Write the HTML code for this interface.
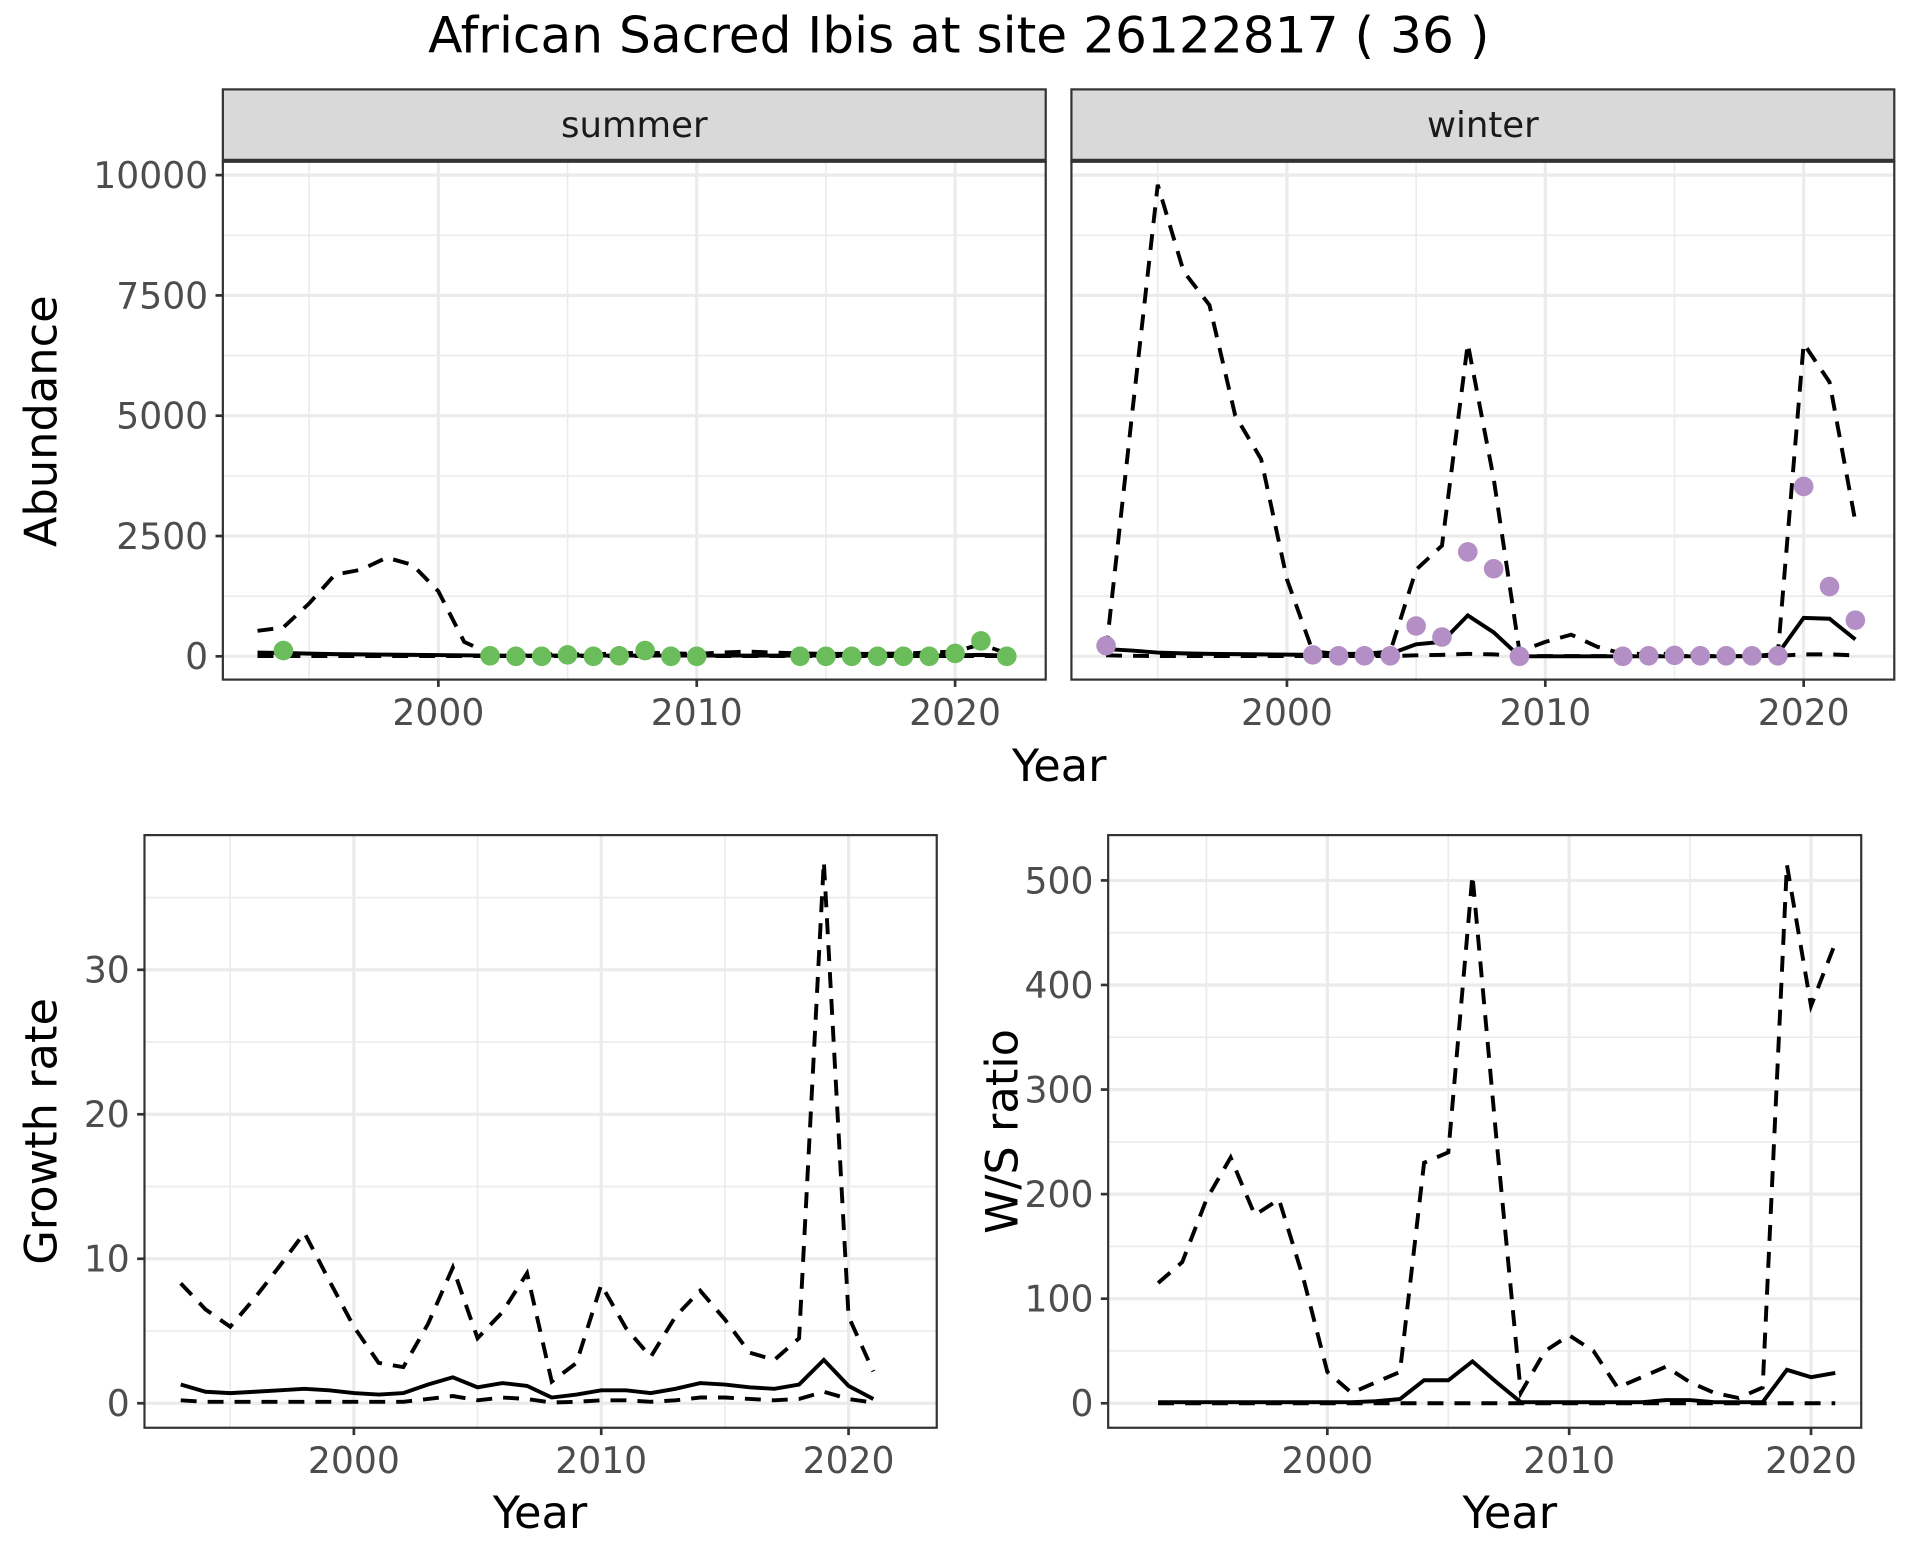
<!DOCTYPE html>
<html><head><meta charset="utf-8"><style>
html,body{margin:0;padding:0;background:#fff}
svg{display:block}
text{font-family:"DejaVu Sans","Liberation Sans",sans-serif}
</style></head><body>
<svg id="c" width="1920" height="1560" viewBox="0 0 1568 1274" xmlns="http://www.w3.org/2000/svg">
<rect width="1568" height="1274" fill="#fff"/>
<text x="783" y="43" text-anchor="middle" font-size="41" fill="#000">African Sacred Ibis at site 26122817 ( 36 )</text>
</svg>
<script>
// ---- data ----
const absYears = [1993,1994,1995,1996,1997,1998,1999,2000,2001,2002,2003,2004,2005,2006,2007,2008,2009,2010,2011,2012,2013,2014,2015,2016,2017,2018,2019,2020,2021,2022];
const sumUpper = [530,600,1100,1700,1800,2050,1900,1350,300,50,40,40,40,40,60,80,60,50,80,100,80,60,50,50,50,60,80,100,250,60];
const sumMean  = [80,70,55,45,40,35,30,25,20,15,15,15,15,15,15,15,15,15,15,15,15,15,15,15,15,15,15,20,30,15];
const sumLower = [5,5,5,5,5,5,5,5,5,5,5,5,5,5,5,5,5,5,5,5,5,5,5,5,5,5,5,5,5,5];
const sumPtYears = [1994,2002,2003,2004,2005,2006,2007,2008,2009,2010,2014,2015,2016,2017,2018,2019,2020,2021,2022];
const sumPtVals  = [120,10,0,0,30,0,10,120,0,0,0,0,0,0,0,0,60,320,0];
const winUpper = [100,5000,9800,8000,7300,5000,4100,1600,100,50,50,100,1800,2300,6500,3700,100,300,450,200,50,50,50,50,50,50,50,6500,5700,2800];
const winMean  = [150,120,80,60,50,45,40,35,30,30,30,50,250,300,850,500,0,0,0,0,0,0,0,0,0,0,50,800,780,350];
const winLower = [20,10,5,5,5,5,5,5,5,5,5,5,20,30,50,40,5,5,5,5,5,5,5,5,5,5,10,40,40,20];
const winPtYears = [1993,2001,2002,2003,2004,2005,2006,2007,2008,2009,2013,2014,2015,2016,2017,2018,2019,2020,2021,2022];
const winPtVals  = [220,30,10,10,10,630,400,2170,1820,0,0,10,20,10,10,10,10,3530,1450,750];
const rateYears = [1993,1994,1995,1996,1997,1998,1999,2000,2001,2002,2003,2004,2005,2006,2007,2008,2009,2010,2011,2012,2013,2014,2015,2016,2017,2018,2019,2020,2021];
const grUpper = [8.3,6.5,5.3,7.3,9.5,11.8,8.5,5.3,2.8,2.5,5.5,9.4,4.5,6.3,9.0,1.5,2.8,8.2,5.2,3.2,6.0,7.8,5.8,3.5,3.0,4.5,37.5,6.0,2.2];
const grMean  = [1.3,0.8,0.7,0.8,0.9,1.0,0.9,0.7,0.6,0.7,1.3,1.8,1.1,1.4,1.2,0.4,0.6,0.9,0.9,0.7,1.0,1.4,1.3,1.1,1.0,1.3,3.0,1.2,0.3];
const grLower = [0.2,0.1,0.1,0.1,0.1,0.1,0.1,0.1,0.1,0.1,0.3,0.5,0.2,0.4,0.3,0.05,0.1,0.2,0.2,0.1,0.2,0.4,0.4,0.3,0.2,0.3,0.8,0.3,0.05];
const wsUpper = [115,135,195,235,180,195,120,30,10,20,30,230,240,505,250,10,50,65,50,15,25,35,20,10,5,15,515,380,440];
const wsMean  = [1,1,1,1,1,1,1,1,1,2,4,22,22,40,20,1,1,1,1,1,1,3,3,1,1,1,32,25,29];
const wsLower = [0,0,0,0,0,0,0,0,0,0,0,0,0,0,0,0,0,0,0,0,0,0,0,0,0,0,0,0,0];
const absTicks = [0,2500,5000,7500,10000];
const absTickLabels = ["0","2500","5000","7500","10000"];
const grTicks = [0,10,20,30];
const wsTicks = [0,100,200,300,400,500];
const yearTicks = [2000,2010,2020];

const svg = document.getElementById('c');
const NS = 'http://www.w3.org/2000/svg';
function mk(tag, attrs, parent){const e=document.createElementNS(NS,tag);for(const k in attrs)e.setAttribute(k,attrs[k]);(parent||svg).appendChild(e);return e;}
function lin(d0,d1,r0,r1){return v=>r0+(v-d0)*(r1-r0)/(d1-d0);}
const TICK_FS=29.5;

function panel(name,x0,x1,y0,y1,xs,ys,yT,yLbls,xMinor,yMinor,showY){
  const g=mk('g',{});
  
  
  mk('rect',{x:x0,y:y0,width:x1-x0,height:y1-y0,fill:'#fff'},g);
  yMinor.forEach(v=>{const l=mk('line',{x1:x0,x2:x1,y1:ys(v),y2:ys(v),stroke:'#ebebeb','stroke-width':1.3},g);});
  xMinor.forEach(v=>{const l=mk('line',{y1:y0,y2:y1,x1:xs(v),x2:xs(v),stroke:'#ebebeb','stroke-width':1.3},g);});
  yT.forEach((v,i)=>{
    const l=mk('line',{x1:x0,x2:x1,y1:ys(v),y2:ys(v),stroke:'#ebebeb','stroke-width':2.6},g);
    
    if(showY){
      mk('line',{x1:x0-6,x2:x0,y1:ys(v),y2:ys(v),stroke:'#333','stroke-width':2.2},svg);
      const t=mk('text',{x:x0-12,y:ys(v)+10.5,'text-anchor':'end','font-size':TICK_FS,fill:'#4d4d4d'});
      t.textContent=yLbls[i];
      
    }
  });
  yearTicks.forEach(v=>{
    const l=mk('line',{y1:y0,y2:y1,x1:xs(v),x2:xs(v),stroke:'#ebebeb','stroke-width':2.6},g);
    
    mk('line',{y1:y1,y2:y1+6,x1:xs(v),x2:xs(v),stroke:'#333','stroke-width':2.2},svg);
    const t=mk('text',{x:xs(v),y:y1+37,'text-anchor':'middle','font-size':TICK_FS,fill:'#4d4d4d'});
    t.textContent=v;
    
  });
  return g;
}
function line(g,xs,ys,years,vals,dash,name){
  const p=mk('path',{d:years.map((y,i)=>(i?'L':'M')+xs(y).toFixed(1)+','+ys(vals[i]).toFixed(1)).join(''),fill:'none',stroke:'#000','stroke-width':3.2,'stroke-dasharray':dash?'13,9':'none'},g);
  
  
}
function pts(g,xs,ys,years,vals,col,name){
  years.forEach((y,i)=>{
    const c=mk('circle',{cx:xs(y),cy:ys(vals[i]),r:8,fill:col},g);
    
    
  });
}
function border(x0,x1,y0,y1,name){const r=mk('rect',{x:x0,y:y0,width:x1-x0,height:y1-y0,fill:'none',stroke:'#333','stroke-width':1.8});}
function strip(x0,x1,label){
  const r=mk('rect',{x:x0,y:73,width:x1-x0,height:59,fill:'#d9d9d9',stroke:'#333','stroke-width':1.8});
  
  mk('line',{x1:x0,x2:x1,y1:131,y2:131,stroke:'#333','stroke-width':2.8});
  const t=mk('text',{x:(x0+x1)/2,y:112,'text-anchor':'middle','font-size':29,fill:'#1a1a1a'});
  t.textContent=label;
}
function title(x,y,txt,rot,name){
  const t=mk('text',{x:x,y:y,'text-anchor':'middle','font-size':36.5,fill:'#000',transform:rot?`rotate(-90 ${x} ${y})`:''});
  t.textContent=txt;
}
const minorYears=[1995,2005,2015];

// Abundance panels
const aYs=lin(0,10000,536,143);
const absMinor=[1250,3750,6250,8750];
{
  const xs=lin(2000,2020,358,780);
  const g=panel('summer-panel',182,854,132,555,xs,aYs,absTicks,absTickLabels,minorYears,absMinor,true);
  line(g,xs,aYs,absYears,sumUpper,true,'summer-upper-line');
  line(g,xs,aYs,absYears,sumLower,true,'summer-lower-line');
  line(g,xs,aYs,absYears,sumMean,false,'summer-mean-line');
  pts(g,xs,aYs,sumPtYears,sumPtVals,'#6abd5a','summer-count-point');
  border(182,854,132,555,'summer-panel-border');
  strip(182,854,'summer');
}
{
  const xs=lin(2000,2020,1051,1473);
  const g=panel('winter-panel',875,1547,132,555,xs,aYs,absTicks,absTickLabels,minorYears,absMinor,false);
  line(g,xs,aYs,absYears,winUpper,true,'winter-upper-line');
  line(g,xs,aYs,absYears,winLower,true,'winter-lower-line');
  line(g,xs,aYs,absYears,winMean,false,'winter-mean-line');
  pts(g,xs,aYs,winPtYears,winPtVals,'#b48fc6','winter-count-point');
  border(875,1547,132,555,'winter-panel-border');
  strip(875,1547,'winter');
}
title(865,638,'Year',false,'x-axis-title-top');
title(46,344,'Abundance',true,'y-axis-title-abundance');

// Growth rate
{
  const xs=lin(2000,2020,289,693), ys=lin(0,30,1146,792);
  const g=panel('growth-rate-panel',118,765,682,1166,xs,ys,grTicks,grTicks.map(String),minorYears,[5,15,25,35],true);
  line(g,xs,ys,rateYears,grUpper,true,'growth-upper-line');
  line(g,xs,ys,rateYears,grLower,true,'growth-lower-line');
  line(g,xs,ys,rateYears,grMean,false,'growth-mean-line');
  border(118,765,682,1166,'growth-panel-border');
  title(441,1248,'Year',false,'x-axis-title-growth');
  title(46,924,'Growth rate',true,'y-axis-title-growth');
}
// W/S ratio
{
  const xs=lin(2000,2020,1084,1479), ys=lin(0,500,1146,719);
  const g=panel('ws-ratio-panel',905,1520,682,1166,xs,ys,wsTicks,wsTicks.map(String),minorYears,[50,150,250,350,450],true);
  line(g,xs,ys,rateYears,wsUpper,true,'ws-upper-line');
  line(g,xs,ys,rateYears,wsLower,true,'ws-lower-line');
  line(g,xs,ys,rateYears,wsMean,false,'ws-mean-line');
  border(905,1520,682,1166,'ws-panel-border');
  title(1233,1248,'Year',false,'x-axis-title-ws');
  title(831,924,'W/S ratio',true,'y-axis-title-ws');
}
</script>
</body></html>
